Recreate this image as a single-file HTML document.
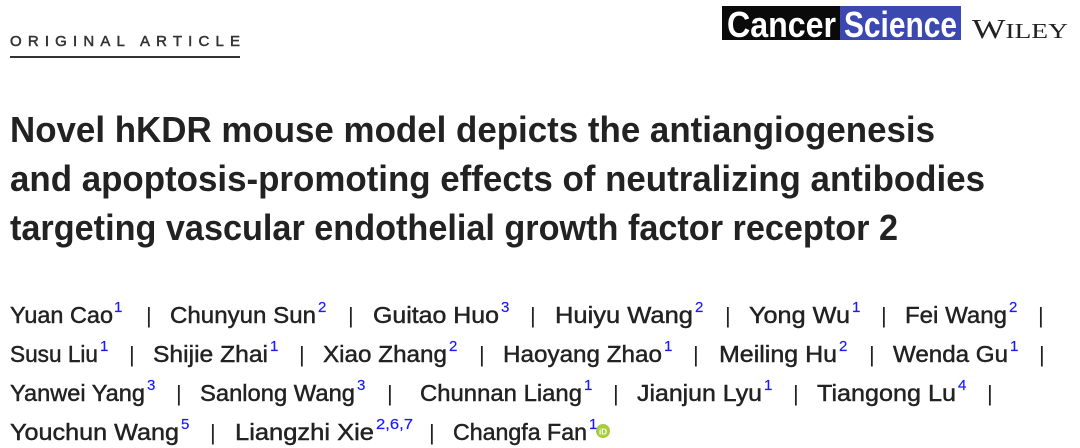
<!DOCTYPE html>
<html><head><meta charset="utf-8"><style>
html,body{margin:0;padding:0;background:#fff;}
svg{display:block;}
.n{font-family:"Liberation Sans","DejaVu Sans",sans-serif;font-size:23px;fill:#222;stroke:#222;stroke-width:0.45;}
.s{font-family:"Liberation Sans",sans-serif;font-size:15px;fill:#1a1aff;stroke:#1a1aff;stroke-width:0.2;}
.p{font-family:"Liberation Sans",sans-serif;font-size:22px;fill:#222;}
.t{font-family:"Liberation Sans","DejaVu Sans",sans-serif;font-size:36px;font-weight:bold;fill:#222;}
</style></head><body>
<svg width="1080" height="448" viewBox="0 0 1080 448" xmlns="http://www.w3.org/2000/svg">
<text x="10" y="46" font-family="Liberation Sans,sans-serif" font-size="15" fill="#333" stroke="#333" stroke-width="0.5" textLength="230" lengthAdjust="spacing">ORIGINAL ARTICLE</text>
<rect x="10" y="56" width="230" height="2" fill="#333"/>
<rect x="722" y="6" width="118" height="34" fill="#0a0a0a"/>
<rect x="840" y="6" width="121" height="34" fill="#3b48b0"/>
<text x="727" y="37" font-family="Liberation Sans,sans-serif" font-weight="bold" font-size="36" fill="#fff" textLength="109" lengthAdjust="spacingAndGlyphs">Cancer</text>
<text x="844" y="37" font-family="Liberation Sans,sans-serif" font-weight="bold" font-size="36" fill="#fff" textLength="113" lengthAdjust="spacingAndGlyphs">Science</text>
<text x="972" y="38" font-family="Liberation Serif,serif" font-size="27" fill="#222" textLength="96" lengthAdjust="spacingAndGlyphs">W<tspan font-size="21">ILEY</tspan></text>
<text class="t" x="10" y="142" textLength="925" lengthAdjust="spacingAndGlyphs">Novel hKDR mouse model depicts the antiangiogenesis</text>
<text class="t" x="10" y="191" textLength="975" lengthAdjust="spacingAndGlyphs">and apoptosis-promoting effects of neutralizing antibodies</text>
<text class="t" x="10" y="240" textLength="888" lengthAdjust="spacingAndGlyphs">targeting vascular endothelial growth factor receptor 2</text>
<g>
<text class="n" x="10" y="323" textLength="103" lengthAdjust="spacingAndGlyphs">Yuan Cao</text><text class="s" x="114" y="312">1</text><text class="p" x="146" y="323">|</text>
<text class="n" x="170" y="323" textLength="146" lengthAdjust="spacingAndGlyphs">Chunyun Sun</text><text class="s" x="318" y="312">2</text><text class="p" x="348" y="323">|</text>
<text class="n" x="373" y="323" textLength="126" lengthAdjust="spacingAndGlyphs">Guitao Huo</text><text class="s" x="501" y="312">3</text><text class="p" x="530" y="323">|</text>
<text class="n" x="555" y="323" textLength="138" lengthAdjust="spacingAndGlyphs">Huiyu Wang</text><text class="s" x="695" y="312">2</text><text class="p" x="725" y="323">|</text>
<text class="n" x="749" y="323" textLength="101" lengthAdjust="spacingAndGlyphs">Yong Wu</text><text class="s" x="852" y="312">1</text><text class="p" x="881" y="323">|</text>
<text class="n" x="905" y="323" textLength="102" lengthAdjust="spacingAndGlyphs">Fei Wang</text><text class="s" x="1009" y="312">2</text><text class="p" x="1038" y="323">|</text>
</g>
<g>
<text class="n" x="10" y="362" textLength="88" lengthAdjust="spacingAndGlyphs">Susu Liu</text><text class="s" x="100" y="351">1</text><text class="p" x="129" y="362">|</text>
<text class="n" x="153" y="362" textLength="115" lengthAdjust="spacingAndGlyphs">Shijie Zhai</text><text class="s" x="270" y="351">1</text><text class="p" x="299" y="362">|</text>
<text class="n" x="323" y="362" textLength="124" lengthAdjust="spacingAndGlyphs">Xiao Zhang</text><text class="s" x="449" y="351">2</text><text class="p" x="479" y="362">|</text>
<text class="n" x="503" y="362" textLength="159" lengthAdjust="spacingAndGlyphs">Haoyang Zhao</text><text class="s" x="664" y="351">1</text><text class="p" x="693" y="362">|</text>
<text class="n" x="719" y="362" textLength="118" lengthAdjust="spacingAndGlyphs">Meiling Hu</text><text class="s" x="839" y="351">2</text><text class="p" x="869" y="362">|</text>
<text class="n" x="893" y="362" textLength="115" lengthAdjust="spacingAndGlyphs">Wenda Gu</text><text class="s" x="1010" y="351">1</text><text class="p" x="1039" y="362">|</text>
</g>
<g>
<text class="n" x="10" y="401" textLength="135" lengthAdjust="spacingAndGlyphs">Yanwei Yang</text><text class="s" x="147" y="390">3</text><text class="p" x="176" y="401">|</text>
<text class="n" x="200" y="401" textLength="155" lengthAdjust="spacingAndGlyphs">Sanlong Wang</text><text class="s" x="357" y="390">3</text><text class="p" x="387" y="401">|</text>
<text class="n" x="420" y="401" textLength="162" lengthAdjust="spacingAndGlyphs">Chunnan Liang</text><text class="s" x="584" y="390">1</text><text class="p" x="613" y="401">|</text>
<text class="n" x="637" y="401" textLength="125" lengthAdjust="spacingAndGlyphs">Jianjun Lyu</text><text class="s" x="764" y="390">1</text><text class="p" x="793" y="401">|</text>
<text class="n" x="817" y="401" textLength="139" lengthAdjust="spacingAndGlyphs">Tiangong Lu</text><text class="s" x="958" y="390">4</text><text class="p" x="987" y="401">|</text>
</g>
<g>
<text class="n" x="10" y="440" textLength="169" lengthAdjust="spacingAndGlyphs">Youchun Wang</text><text class="s" x="181" y="429">5</text><text class="p" x="210" y="440">|</text>
<text class="n" x="235" y="440" textLength="139" lengthAdjust="spacingAndGlyphs">Liangzhi Xie</text><text class="s" x="376" y="429" textLength="37" lengthAdjust="spacingAndGlyphs">2,6,7</text><text class="p" x="429" y="440">|</text>
<text class="n" x="453" y="440" textLength="134" lengthAdjust="spacingAndGlyphs">Changfa Fan</text><text class="s" x="589" y="429">1</text>
<circle cx="603" cy="431" r="7" fill="#a6ce39"/>
<text x="603" y="434.5" font-family="Liberation Sans,sans-serif" font-size="8" font-weight="bold" fill="#fff" text-anchor="middle">iD</text>
</g>
</svg>
</body></html>
